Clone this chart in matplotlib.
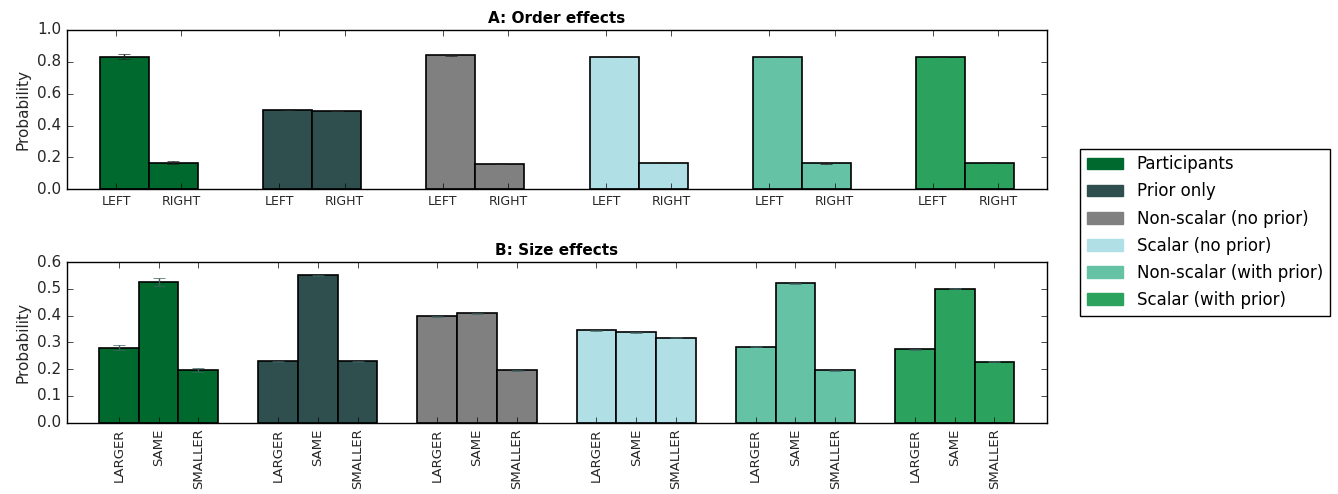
import numpy as np
import matplotlib
matplotlib.use("Agg")
import matplotlib.pyplot as plt
from matplotlib.patches import Patch

# =============================================================================
# Data
# =============================================================================

MODELS = [
    "Participants", "Prior only", "Non-scalar (no prior)",
    "Scalar (no prior)", "Non-scalar (with prior)", "Scalar (with prior)",
]
COLORS = ["#006a2e", "#2f4f4f", "#808080", "#b0e0e6", "#66c2a5", "#2ca25f"]

ORDER_LABELS = ["LEFT", "RIGHT"]
SIZE_LABELS = ["LARGER", "SAME", "SMALLER"]

# panel A: P(LEFT), P(RIGHT) per model
order_left = [0.832, 0.500, 0.840, 0.832, 0.832, 0.832]
order_right = [0.168, 0.492, 0.160, 0.168, 0.162, 0.168]
order_left_err = [0.015, 0.002, 0.003, 0.002, 0.002, 0.002]
order_right_err = [0.010, 0.002, 0.002, 0.002, 0.002, 0.002]

# panel B: P(LARGER), P(SAME), P(SMALLER) per model
size_larger = [0.280, 0.229, 0.398, 0.346, 0.284, 0.275]
size_same = [0.525, 0.550, 0.408, 0.337, 0.520, 0.500]
size_smaller = [0.196, 0.229, 0.196, 0.317, 0.195, 0.227]
size_larger_err = [0.010, 0.002, 0.002, 0.002, 0.002, 0.002]
size_same_err = [0.015, 0.002, 0.002, 0.002, 0.002, 0.002]
size_smaller_err = [0.008, 0.002, 0.002, 0.002, 0.002, 0.002]

# =============================================================================
# Plot
# =============================================================================

plt.style.use("classic")
plt.rcParams["font.family"] = "DejaVu Sans"

fig = plt.figure(figsize=(13.38, 4.94), dpi=100, facecolor="white")
ax_a = fig.add_axes([0.0501, 0.6168, 0.7324, 0.3225])
ax_b = fig.add_axes([0.0501, 0.1443, 0.7324, 0.3253])

ind = np.arange(len(MODELS))
TXT = "#262626"

# --- A: order effects
w = 0.3
order_vals = [order_left, order_right]
order_errs = [order_left_err, order_right_err]
ticks_a, labels_a = [], []
for j in range(len(ORDER_LABELS)):
    ax_a.bar(ind + 0.2 + j * w, order_vals[j], w, color=COLORS,
             edgecolor="black", linewidth=1.2, align="edge")
    ax_a.errorbar(ind + 0.2 + j * w + w / 2, order_vals[j], yerr=order_errs[j],
                  fmt="none", ecolor="#222222", capsize=4.5, elinewidth=1)
for i in ind:
    for j, lab in enumerate(ORDER_LABELS):
        ticks_a.append(i + 0.3 + 0.4 * j)
        labels_a.append(lab)
ax_a.set_xticks(ticks_a)
ax_a.set_xticklabels(labels_a, fontsize=9, color=TXT)
ax_a.set_xlim(0, 6)
ax_a.set_ylim(0, 1.0)
ax_a.set_yticks(np.arange(0, 1.01, 0.2))
ax_a.tick_params(axis="y", labelsize=11, labelcolor=TXT)
ax_a.set_ylabel("Probability", fontsize=11, color=TXT)
ax_a.set_title("A: Order effects", fontsize=11, fontweight="bold")

# --- B: size effects
w = 0.25
size_vals = [size_larger, size_same, size_smaller]
size_errs = [size_larger_err, size_same_err, size_smaller_err]
ticks_b, labels_b = [], []
for j in range(len(SIZE_LABELS)):
    ax_b.bar(ind + 0.2 + j * w, size_vals[j], w, color=COLORS,
             edgecolor="black", linewidth=1.2, align="edge")
    ax_b.errorbar(ind + 0.2 + j * w + w / 2, size_vals[j], yerr=size_errs[j],
                  fmt="none", ecolor="#3e5f5f", capsize=4.5, elinewidth=1)
for i in ind:
    for j, lab in enumerate(SIZE_LABELS):
        ticks_b.append(i + 0.2 + j * w + w / 2)
        labels_b.append(lab)
ax_b.set_xticks(ticks_b)
ax_b.set_xticklabels(labels_b, fontsize=9.5, rotation=90, color=TXT)
ax_b.set_xlim(0, 6.155)
ax_b.set_ylim(0, 0.6)
ax_b.set_yticks(np.arange(0, 0.61, 0.1))
ax_b.tick_params(axis="y", labelsize=11, labelcolor=TXT)
ax_b.set_ylabel("Probability", fontsize=11, color=TXT)
ax_b.set_title("B: Size effects", fontsize=11, fontweight="bold")

handles = [Patch(facecolor=c, edgecolor=c) for c in COLORS]
fig.legend(handles, MODELS, loc="center left", bbox_to_anchor=(0.801, 0.530),
           fontsize=12, frameon=True, fancybox=False, handlelength=2.2,
           labelspacing=0.55, prop=None)

fig.savefig("out.png", dpi=100, facecolor="white")
